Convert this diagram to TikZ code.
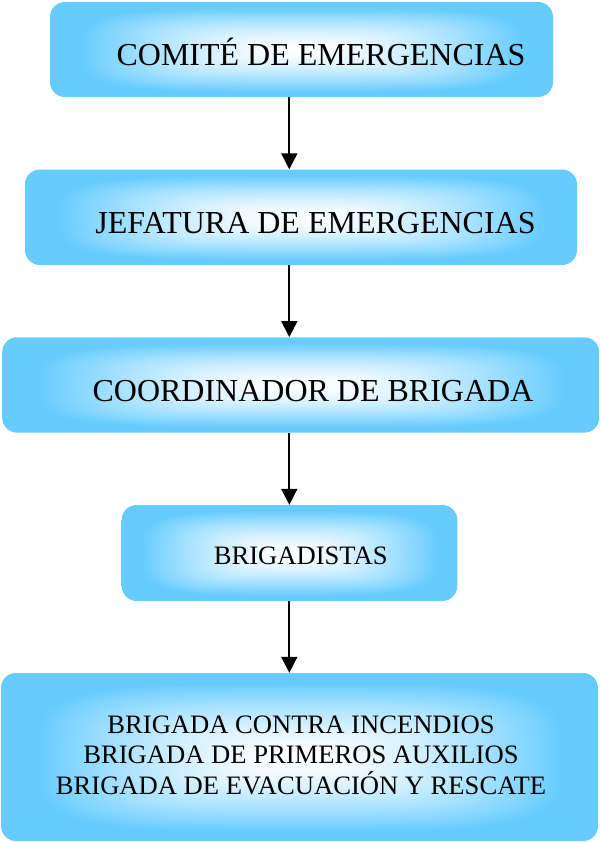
\documentclass[tikz,border=0pt]{standalone}
\usepackage{fontspec}
\setmainfont{Liberation Serif}
\usetikzlibrary{arrows.meta}
\pgfdeclarefunctionalshading{rectglow}{\pgfpoint{-50bp}{-50bp}}{\pgfpoint{50bp}{50bp}}{}{
 abs 25 div dup mul dup mul exch abs 25 div dup mul dup mul add sqrt sqrt
 0.88 div dup 1 gt {pop 1} if
 dup sqrt mul
 dup 0.6 mul 1 exch sub exch
 dup 0.2 mul 1 exch sub exch
 pop 1
}
\definecolor{boxblue}{RGB}{102,204,255}
\tikzset{
  box/.style={rectangle, rounded corners=15pt, shading=rectglow, draw=none, inner sep=0pt},
  bigtxt/.style={anchor=base, inner sep=0pt, font=\fontsize{32}{38}\selectfont},
  smalltxt/.style={anchor=base, inner sep=0pt, font=\fontsize{26.6}{30.5}\selectfont},
  arr/.style={line width=1.7pt, -{Triangle[width=16pt,length=16pt]}}
}
\begin{document}
\begin{tikzpicture}[x=1pt,y=1pt]
\useasboundingbox (0,0) rectangle (600,-842);
% boxes
\node[box, minimum width=503pt, minimum height=95pt] (b1) at (301.5,-49.5) {};
\node[box, minimum width=552pt, minimum height=95.5pt] (b2) at (301,-217.3) {};
\node[box, minimum width=597pt, minimum height=95.4pt] (b3) at (300.7,-385) {};
\node[box, minimum width=335.6pt, minimum height=96pt] (b4) at (289.5,-553) {};
\node[box, minimum width=597pt, minimum height=168pt] (b5) at (299.5,-757) {};
% texts
\node[bigtxt] (t1) at (321,-65.3) {COMITÉ DE EMERGENCIAS};
\node[bigtxt] (t2) at (315.5,-233.3) {JEFATURA DE EMERGENCIAS};
\node[bigtxt] (t3) at (313,-401) {COORDINADOR DE BRIGADA};
\node[smalltxt] (t4) at (300.7,-564) {BRIGADISTAS};
\node[smalltxt] (t5a) at (301,-733.3) {BRIGADA CONTRA INCENDIOS};
\node[smalltxt] (t5b) at (301,-763.3) {BRIGADA DE PRIMEROS AUXILIOS};
\node[smalltxt] (t5c) at (301,-794) {BRIGADA DE EVACUACIÓN Y RESCATE};
% arrows
\coordinate (ax) at (289.3,0);
\draw[arr] (b1.south -| ax) -- (b2.north -| ax);
\draw[arr] (b2.south -| ax) -- (b3.north -| ax);
\draw[arr] (b3.south -| ax) -- (b4.north -| ax);
\draw[arr] (b4.south -| ax) -- (b5.north -| ax);
\end{tikzpicture}
\end{document}
